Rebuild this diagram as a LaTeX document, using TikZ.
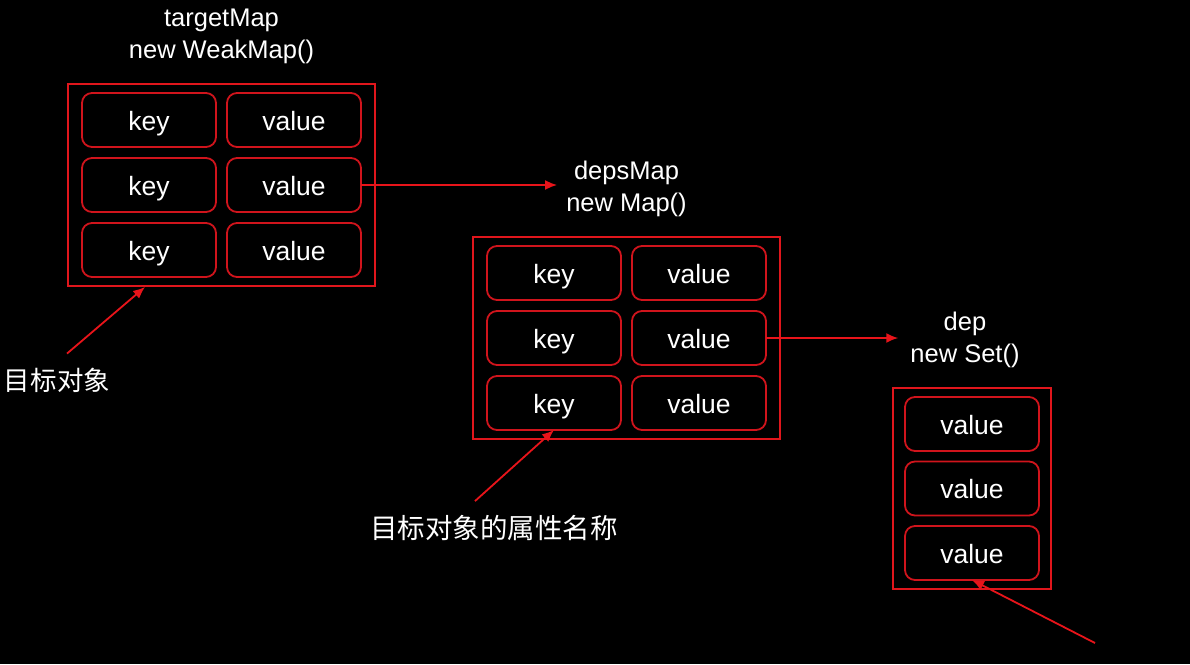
\documentclass[tikz,border=0pt]{standalone}
\usepackage{fontspec}
\setmainfont{Liberation Sans}
\newfontfamily\cjk{Noto Sans CJK SC}
\usetikzlibrary{arrows.meta,positioning,fit,calc}
\definecolor{cellred}{HTML}{D0141C}
\definecolor{boxred}{HTML}{E0161C}
\definecolor{arrowred}{HTML}{E8141A}

\begin{document}
\begin{tikzpicture}[x=1pt, y=-1pt,
  node distance=11pt and 11pt,
  cell/.style={draw=cellred, line width=1.8pt, rounded corners=10pt, minimum width=134pt, minimum height=54pt, inner sep=0pt, outer sep=0pt, text height=22pt, text depth=2pt, text=white, font=\fontsize{26.5}{30}\selectfont},
  holder/.style={draw=boxred, line width=1.8pt, inner xsep=14pt, inner ysep=9pt},
  title/.style={text=white, align=center, inner sep=0pt, font=\fontsize{25.5}{32}\selectfont},
  note/.style={text=white, inner sep=0pt, font=\cjk\fontsize{26.5}{30}\selectfont},
  arrow/.style={-{Latex[length=12pt, width=10pt]}, arrowred, line width=1.8pt}
]
\fill[black] (0,0) rectangle (1190,664);
\useasboundingbox (0,0) rectangle (1190,664);

% targetMap
\node[cell] (tk1) at (149,120) {key};
\node[cell, right=of tk1] (tv1) {value};
\node[cell, below=of tk1] (tk2) {key};
\node[cell, right=of tk2] (tv2) {value};
\node[cell, below=of tk2] (tk3) {key};
\node[cell, right=of tk3] (tv3) {value};
\node[holder, fit=(tk1)(tv3)] (tmap) {};
\node[title, above=19pt of tmap] (ttitle) {targetMap\\new WeakMap()};

% depsMap
\node[cell] (dk1) at (554,273) {key};
\node[cell, right=of dk1] (dv1) {value};
\node[cell, below=of dk1] (dk2) {key};
\node[cell, right=of dk2] (dv2) {value};
\node[cell, below=of dk2] (dk3) {key};
\node[cell, right=of dk3] (dv3) {value};
\node[holder, fit=(dk1)(dv3)] (dmap) {};
\node[title, above=19pt of dmap] (dtitle) {depsMap\\new Map()};

% dep
\node[cell] (sv1) at (972,424) {value};
\node[cell, below=10.5pt of sv1] (sv2) {value};
\node[cell, below=10.5pt of sv2] (sv3) {value};
\node[holder, inner xsep=12pt, fit=(sv1)(sv3)] (sset) {};
\node[title, above=19pt of sset, xshift=-7pt] (stitle) {dep\\new Set()};

% notes
\node[note] (tnote) at (57,380) {目标对象};
\node[note, font=\cjk\fontsize{27.5}{30}\selectfont] (dnote) at (494,528) {目标对象的属性名称};
\coordinate (sfree) at (1095,643);

\draw[arrow] (tv2.east) -- ($(tv2.east -| dtitle.west)+(-9,0)$);
\draw[arrow] (dv2.east) -- ($(dv2.east -| stitle.west)+(-12,0)$);
\draw[arrow] ($(tnote.north)+(10,-14)$) -- ($(tmap.south west)+(78,0)$);
\draw[arrow] ($(dnote.north)+(-19,-14)$) -- (dk3.south);
\draw[arrow] (sfree) -- (sv3.south);
\end{tikzpicture}
\end{document}
